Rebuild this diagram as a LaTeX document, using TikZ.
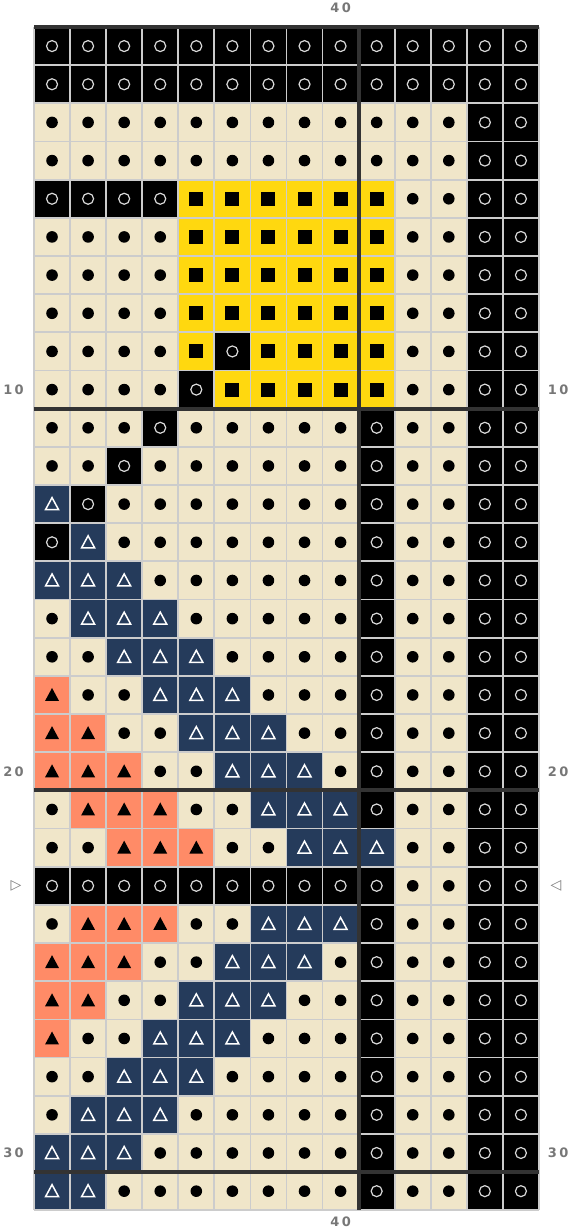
\documentclass[tikz,border=0pt]{standalone}
\usepackage{fontspec}
\newfontfamily\chartfont[LetterSpace=18]{DejaVu Sans}
\newfontfamily\markfont{DejaVu Sans}
\definecolor{cblack}{HTML}{000000}
\definecolor{ccream}{HTML}{F0E6C9}
\definecolor{cyellow}{HTML}{FFD80F}
\definecolor{cnavy}{HTML}{253B5B}
\definecolor{csalmon}{HTML}{FF8B67}
\definecolor{cgrid}{HTML}{CCCCCC}
\definecolor{cheavy}{HTML}{333333}
\definecolor{clabel}{HTML}{777777}
\tikzset{
  ring/.style={draw=white!85!black, line width=1.2pt},
  gridline/.style={draw=cgrid, line width=1.8pt},
  heavyline/.style={draw=cheavy, line width=4pt},
  count/.style={font=\chartfont\bfseries\fontsize{13}{13}\selectfont, text=clabel, inner sep=0pt},
  marker/.style={font=\markfont\fontsize{14}{14}\selectfont, text=clabel, inner sep=0pt},
}
% one macro per chart symbol: column, row
\newcommand\stB[2]{\fill[cblack] (#1-1,#2-1) rectangle (#1,#2);
  \draw[ring] (#1-.5,#2-.5) circle[radius=5.5pt];}
\newcommand\stD[2]{\fill[ccream] (#1-1,#2-1) rectangle (#1,#2);
  \fill[black] (#1-.5,#2-.5) circle[radius=5.8pt];}
\newcommand\stY[2]{\fill[cyellow] (#1-1,#2-1) rectangle (#1,#2);
  \fill[black, shift={(#1-.5,#2-.5)}] (-7pt,-7pt) rectangle (7pt,7pt);}
\newcommand\stN[2]{\fill[cnavy] (#1-1,#2-1) rectangle (#1,#2);
  \draw[white, line width=1.5pt, shift={(#1-.5,#2-.5)}] (-6.5pt,-5.5pt) -- (6.5pt,-5.5pt) -- (0,6.5pt) -- cycle;}
\newcommand\stS[2]{\fill[csalmon] (#1-1,#2-1) rectangle (#1,#2);
  \fill[black, shift={(#1-.5,#2-.5)}] (-7pt,-6pt) -- (7pt,-6pt) -- (0,7pt) -- cycle;}

\begin{document}
\begin{tikzpicture}[x=36.07pt, y=-38.17pt]
  \useasboundingbox (-0.9426,-0.7074) rectangle (14.860,31.570);
  \foreach \row [count=\rw] in {
    {B,B,B,B,B,B,B,B,B,B,B,B,B,B},
    {B,B,B,B,B,B,B,B,B,B,B,B,B,B},
    {D,D,D,D,D,D,D,D,D,D,D,D,B,B},
    {D,D,D,D,D,D,D,D,D,D,D,D,B,B},
    {B,B,B,B,Y,Y,Y,Y,Y,Y,D,D,B,B},
    {D,D,D,D,Y,Y,Y,Y,Y,Y,D,D,B,B},
    {D,D,D,D,Y,Y,Y,Y,Y,Y,D,D,B,B},
    {D,D,D,D,Y,Y,Y,Y,Y,Y,D,D,B,B},
    {D,D,D,D,Y,B,Y,Y,Y,Y,D,D,B,B},
    {D,D,D,D,B,Y,Y,Y,Y,Y,D,D,B,B},
    {D,D,D,B,D,D,D,D,D,B,D,D,B,B},
    {D,D,B,D,D,D,D,D,D,B,D,D,B,B},
    {N,B,D,D,D,D,D,D,D,B,D,D,B,B},
    {B,N,D,D,D,D,D,D,D,B,D,D,B,B},
    {N,N,N,D,D,D,D,D,D,B,D,D,B,B},
    {D,N,N,N,D,D,D,D,D,B,D,D,B,B},
    {D,D,N,N,N,D,D,D,D,B,D,D,B,B},
    {S,D,D,N,N,N,D,D,D,B,D,D,B,B},
    {S,S,D,D,N,N,N,D,D,B,D,D,B,B},
    {S,S,S,D,D,N,N,N,D,B,D,D,B,B},
    {D,S,S,S,D,D,N,N,N,B,D,D,B,B},
    {D,D,S,S,S,D,D,N,N,N,D,D,B,B},
    {B,B,B,B,B,B,B,B,B,B,D,D,B,B},
    {D,S,S,S,D,D,N,N,N,B,D,D,B,B},
    {S,S,S,D,D,N,N,N,D,B,D,D,B,B},
    {S,S,D,D,N,N,N,D,D,B,D,D,B,B},
    {S,D,D,N,N,N,D,D,D,B,D,D,B,B},
    {D,D,N,N,N,D,D,D,D,B,D,D,B,B},
    {D,N,N,N,D,D,D,D,D,B,D,D,B,B},
    {N,N,N,D,D,D,D,D,D,B,D,D,B,B},
    {N,N,D,D,D,D,D,D,D,B,D,D,B,B}%
  }{
    \foreach \s [count=\col] in \row {
      \csname st\s\endcsname{\col}{\rw}
    }
  }
  % grid
  \foreach \x in {0,...,14} \draw[gridline] (\x,0) -- (\x,31);
  \foreach \y in {0,...,31} \draw[gridline] (0,\y) -- (14,\y);
  \foreach \y in {0,10,20,30} \draw[heavyline] (0,\y) -- (14,\y);
  \draw[heavyline] (9,0) -- (9,31);
  % counts
  \node[count] (ctop) at (8.5,-0.5) {40};
  \node[count] (cbot) at (8.5,31.31) {40};
  \foreach \n in {10,20,30} {
    \node[count] (l\n) at (-0.568,\n-0.5) {\n};
    \node[count] (r\n) at (14.53,\n-0.5) {\n};
  }
  \node[marker] (mkl) at (-0.5,22.5) {▷};
  \node[marker] (mkr) at (14.47,22.5) {◁};
\end{tikzpicture}
\end{document}
